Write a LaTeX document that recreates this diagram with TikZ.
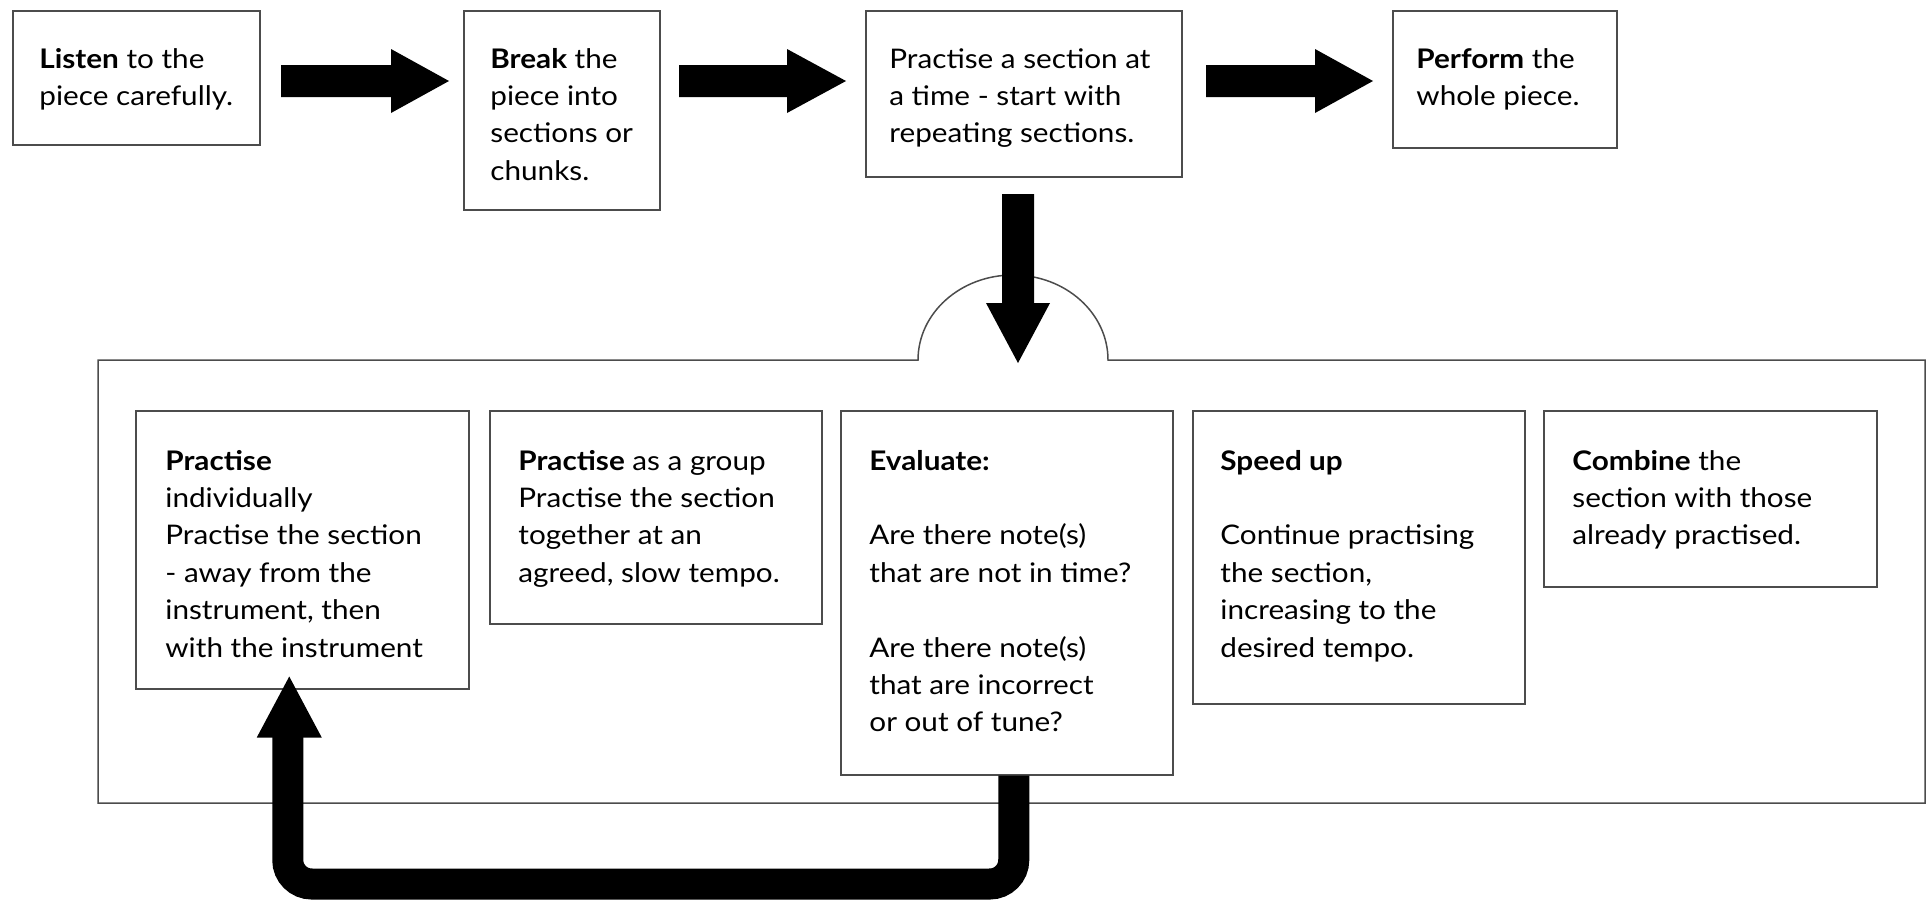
\documentclass[tikz,border=0pt]{standalone}
\usepackage{fontspec}
\setmainfont{Lato}[FakeStretch=1.1]
\usetikzlibrary{calc}
\newcommand{\txtlines}[1]{\begin{tabular}[t]{@{}l@{}}#1\end{tabular}}
\begin{document}
\begin{tikzpicture}[x=0.5pt,y=-0.5pt,
  box/.style={draw=black!70, line width=0.75pt, fill=white, rectangle, inner sep=0pt, anchor=north west},
  frame/.style={draw=black!70, line width=0.75pt},
  txt/.style={anchor=base west, inner sep=0pt, font=\fontsize{13.5pt}{18.7pt}\selectfont},
  blk/.style={fill=black},
  loop/.style={draw=black, line width=15.5pt, rounded corners=12pt}]
\useasboundingbox (0,0) rectangle (1927,900);

% container with bump
\draw[frame] (98,360) -- (918,360) arc[start angle=180, end angle=0, x radius=47.5pt, y radius=42.5pt]
  -- (1925,360) -- (1925,803) -- (98,803) -- cycle;

% top boxes
\node[box, minimum width=123.5pt, minimum height=67pt]   (b1) at (12,10) {};
\node[box, minimum width=98pt,    minimum height=99.5pt] (b2) at (463,10) {};
\node[box, minimum width=158pt,   minimum height=83pt]   (b3) at (865,10) {};
\node[box, minimum width=112pt,   minimum height=68.5pt] (b4) at (1392,10) {};

% bottom boxes
\node[box, minimum width=166.5pt, minimum height=139pt]   (b5) at (135,410) {};
\node[box, minimum width=166pt,   minimum height=106.5pt] (b6) at (489,410) {};
\node[box, minimum width=166pt,   minimum height=182pt]   (b7) at (840,410) {};
\node[box, minimum width=166pt,   minimum height=146.5pt] (b8) at (1192,410) {};
\node[box, minimum width=166.5pt, minimum height=88pt]    (b9) at (1543,410) {};

% texts
\node[txt] (t1) at (39,68)  {\txtlines{\textbf{Listen} to the\\piece carefully.}};
\node[txt] (t2) at (490,68) {\txtlines{\textbf{Break} the\\piece into\\sections or\\chunks.}};
\node[txt] (t3) at (889,68) {\txtlines{Practise a section at\\a time - start with\\repeating sections.}};
\node[txt] (t4) at (1416,68) {\txtlines{\textbf{Perform} the\\whole piece.}};
\node[txt] (t5) at (165,470) {\txtlines{\textbf{Practise}\\individually\\Practise the section\\- away from the\\instrument, then\\with the instrument}};
\node[txt] (t6) at (518,470) {\txtlines{\textbf{Practise} as a group\\Practise the section\\together at an\\agreed, slow tempo.}};
\node[txt] (t7) at (869,470) {\txtlines{\textbf{Evaluate:}\\ \\Are there note(s)\\that are not in time?\\ \\Are there note(s)\\that are incorrect\\or out of tune?}};
\node[txt] (t8) at (1220,470) {\txtlines{\textbf{Speed up}\\ \\Continue practising\\the section,\\increasing to the\\desired tempo.}};
\node[txt] (t9) at (1572,470) {\txtlines{\textbf{Combine} the\\section with those\\already practised.}};

% block arrows (top row)
\fill[blk] (281,65) -- (391,65) -- (391,49) -- (449,81) -- (391,113) -- (391,97) -- (281,97) -- cycle;
\fill[blk] (679,65) -- (787,65) -- (787,49) -- (846,81) -- (787,113) -- (787,97) -- (679,97) -- cycle;
\fill[blk] (1206,65) -- (1315,65) -- (1315,49) -- (1373,81) -- (1315,113) -- (1315,97) -- (1206,97) -- cycle;

% down arrow
\fill[blk] (1002,194) -- (1034,194) -- (1034,303) -- (1050,303) -- (1018,363) -- (986,303) -- (1002,303) -- cycle;

% loop arrow from Evaluate back to Practise individually
\coordinate (lstart) at ($(b7.south)+(7,0)$);
\coordinate (lend) at ($(b5.south)+(-14.5,47)$);
\draw[loop] (lstart) -- (lstart |- 0,884) -- (lend |- 0,884) -- (lend);
\fill[blk] ($(lend)+(-31,1)$) -- ($(lend)+(34,1)$) -- ($(b5.south)+(-13,-13)$) -- cycle;
\end{tikzpicture}
\end{document}
